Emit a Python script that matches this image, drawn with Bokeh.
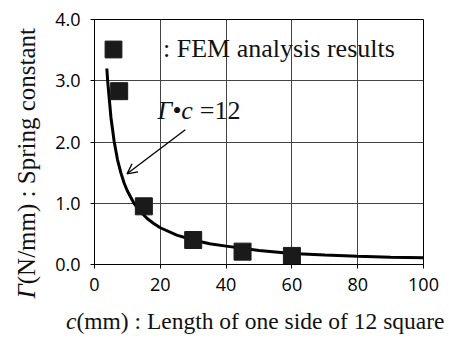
from bokeh.plotting import figure
from bokeh.models import (Label, Arrow, OpenHead, Legend, LegendItem, FixedTicker,
                          PrintfTickFormatter, Range1d, Div)
from bokeh.layouts import row, column
from bokeh.embed import file_html
from bokeh.resources import INLINE

# FEM analysis results
c_fem = [7.5, 15, 30, 45, 60]
gamma_fem = [2.83, 0.95, 0.40, 0.21, 0.14]

# Curve Γ·c = 12
c_curve = [3.75, 4, 5, 6, 7, 8, 9, 10, 12, 14, 16, 18, 20, 25, 30, 35, 40, 50, 60, 70, 80, 90, 100]
gamma_curve = [3.2, 3.0, 2.4, 2.0, 1.71, 1.5, 1.33, 1.2, 1.0, 0.86, 0.75, 0.67, 0.6, 0.48,
               0.4, 0.34, 0.3, 0.23, 0.18, 0.155, 0.135, 0.12, 0.11]

x_ticks = [0, 20, 40, 60, 80, 100]
y_ticks = [0, 1, 2, 3, 4]

legend_label = ": FEM analysis results"
x_title_italic = "c"
x_title_rest = "(mm) : Length of one side of 12 square"
y_title_italic = "Γ"
y_title_rest = "(N/mm) : Spring constant"

SERIF = "Liberation Serif"
SANS = "Open Sans"

p = figure(width=397, height=300, x_range=Range1d(0, 100), y_range=Range1d(0, 4),
           output_backend="svg", toolbar_location=None,
           min_border_left=42, min_border_right=26, min_border_top=19, min_border_bottom=36)
p.margin = 0
p.background_fill_color = "white"
p.border_fill_color = "white"
p.outline_line_color = "black"
p.outline_line_width = 1

for ax in (p.xaxis[0], p.yaxis[0]):
    ax.major_label_text_font = SANS
    ax.major_label_text_font_size = "18px"
    ax.major_label_text_color = "black"
    ax.major_tick_in = 0
    ax.major_tick_out = 4
    ax.minor_tick_in = 0
    ax.minor_tick_out = 0
    ax.axis_line_color = "black"
    ax.major_tick_line_color = "black"

p.xaxis.ticker = FixedTicker(ticks=x_ticks)
p.yaxis.ticker = FixedTicker(ticks=y_ticks)
p.yaxis.formatter = PrintfTickFormatter(format="%.1f")
p.xaxis.major_label_standoff = 9
p.yaxis.major_label_standoff = 10

p.xgrid.ticker = FixedTicker(ticks=x_ticks)
p.ygrid.ticker = FixedTicker(ticks=y_ticks)
p.grid.grid_line_color = "#444444"
p.grid.grid_line_width = 1

p.line(c_curve, gamma_curve, line_color="black", line_width=3)
sq = p.scatter(c_fem, gamma_fem, marker="square", size=17, fill_color="#1a1a1a",
               line_color="#1a1a1a")

legend = Legend(items=[LegendItem(label=legend_label, renderers=[sq])],
                location=(-2, 194), padding=0, margin=0, spacing=0,
                glyph_width=42, glyph_height=42, label_standoff=29,
                label_text_font=SERIF, label_text_font_size="26px",
                label_text_color="#111111", border_line_color=None,
                background_fill_alpha=0)
p.add_layout(legend)

# Annotation Γ·c = 12
p.add_layout(Label(x=29.9, y=2.51, text="Γ•c", text_font=SERIF, text_font_style="italic",
                   text_font_size="26px", text_align="right", text_baseline="middle",
                   text_color="#111111"))
p.add_layout(Label(x=32.0, y=2.51, text="=12", text_font=SERIF,
                   text_font_size="26px", text_align="left", text_baseline="middle",
                   text_color="#111111"))
p.add_layout(Arrow(end=OpenHead(size=10, line_width=1.3, line_color="black"),
                   x_start=27.6, y_start=2.20, x_end=9.9, y_end=1.48,
                   line_width=1.3, line_color="black"))

def font_css(size):
    return (f"font-family:'Liberation Serif',serif;font-size:{size}px;color:#111;"
            "white-space:nowrap;line-height:1;")

ydiv = Div(width=52, height=341, margin=0,
           text=(f"<div style=\"width:52px;height:341px;display:flex;align-items:center;"
                 f"justify-content:center;box-sizing:border-box;padding-bottom:14px;\">"
                 f"<span style=\"writing-mode:vertical-rl;transform:rotate(180deg);{font_css(25)}\">"
                 f"<i>{y_title_italic}</i>{y_title_rest}</span></div>"))

xdiv = Div(width=397, height=41, margin=0,
           text=(f"<div style=\"width:397px;height:41px;box-sizing:border-box;padding-left:14px;"
                 f"padding-top:10px;{font_css(23.5)}\"><i>{x_title_italic}</i>{x_title_rest}</div>"))

layout = row(ydiv, column(p, xdiv, spacing=0), spacing=0)

open("out.html", "w").write(file_html(layout, INLINE))
